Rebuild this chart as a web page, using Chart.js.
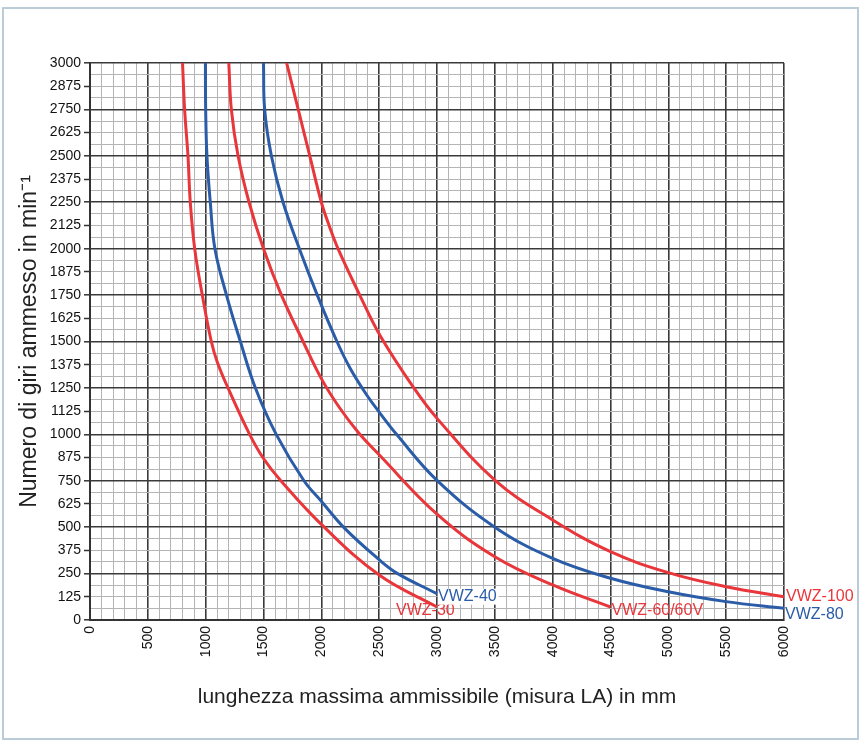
<!DOCTYPE html>
<html><head><meta charset="utf-8">
<script src="https://cdn.jsdelivr.net/npm/chart.js@4.4.0/dist/chart.umd.min.js"></script>
<style>
html,body{margin:0;padding:0;background:#fff;}
#wrap{position:relative;width:860px;height:742px;overflow:hidden;}
#frame{position:absolute;left:2px;top:7px;width:853px;height:729px;border:2px solid #b9ccd8;pointer-events:none;}
canvas{position:absolute;left:0;top:0;}
</style></head><body>
<div id="wrap"><canvas id="c" width="860" height="742"></canvas><div id="frame"></div></div>
<script>
// ---- data ----
const seriesNames = ['VWZ-30', 'VWZ-40', 'VWZ-60/60V', 'VWZ-80', 'VWZ-100'];

const x30 = [800, 818, 847, 867, 905, 971, 1049, 1100, 1193, 1380, 1500, 1650, 2000, 2500, 3000];
const y30 = [3000, 2750, 2500, 2250, 2000, 1750, 1500, 1390, 1250, 1000, 870, 750, 515, 242, 70];

const x40 = [998, 1000, 1011, 1040, 1080, 1180, 1300, 1430, 1610, 1850, 2000, 2200, 2500, 2660, 3000];
const y40 = [3000, 2750, 2500, 2250, 2000, 1750, 1500, 1250, 1000, 750, 640, 495, 325, 250, 142];

const x60 = [1200, 1222, 1280, 1375, 1500, 1655, 1842, 2000, 2150, 2320, 2500, 3000, 3500, 4000, 4500];
const y60 = [3000, 2750, 2500, 2250, 2000, 1750, 1500, 1300, 1150, 1010, 890, 570, 341, 189, 70];

const x80 = [1500, 1510, 1568, 1669, 1810, 1965, 2135, 2250, 2400, 2500, 2650, 3000, 3500, 4000, 4500, 5000, 5500, 6000];
const y80 = [3000, 2750, 2500, 2250, 2000, 1750, 1500, 1355, 1205, 1120, 1000, 752, 500, 332, 225, 152, 99, 63];

const x100 = [1700, 1800, 1900, 2000, 2070, 2144, 2332, 2510, 2800, 3000, 3500, 4000, 4500, 5000, 5500, 6000];
const y100 = [3000, 2750, 2500, 2250, 2120, 2000, 1750, 1530, 1250, 1086, 754, 539, 368, 255, 179, 125];

const xTickLabels = [0, 500, 1000, 1500, 2000, 2500, 3000, 3500, 4000, 4500, 5000, 5500, 6000];
const yTickLabels = [0,125,250,375,500,625,750,875,1000,1125,1250,1375,1500,1625,1750,1875,2000,2125,2250,2375,2500,2625,2750,2875,3000];

// ---- styling ----
const RED = '#e8363b', BLUE = '#2a5ca8';
const pts = (xs, ys) => xs.map((x, i) => ({x, y: ys[i]}));
const mkDs = (name, xs, ys, color) => ({
  label: name, data: pts(xs, ys), borderColor: color, backgroundColor: color,
  borderWidth: 3, pointRadius: 0, showLine: true, fill: false,
  tension: 0.4
});

const labelStyle = [
  {color: RED,  dx: -41, dy: 4, bg: false},
  {color: BLUE, dx: 1,   dy: 3, bg: true},
  {color: RED,  dx: 1,   dy: 4, bg: false},
  {color: BLUE, dx: 1,   dy: 6, bg: false},
  {color: RED,  dx: 2,   dy: 0, bg: false}
];

const endLabels = {
  id: 'endLabels',
  afterDatasetsDraw(chart) {
    const ctx = chart.ctx;
    ctx.save();
    ctx.font = '16px "Liberation Sans", Arial, sans-serif';
    ctx.textBaseline = 'middle';
    ctx.textAlign = 'left';
    chart.data.datasets.forEach((ds, i) => {
      const meta = chart.getDatasetMeta(i);
      const p = meta.data[meta.data.length - 1];
      const s = labelStyle[i];
      const tx = p.x + s.dx, ty = p.y + s.dy;
      const w = ctx.measureText(ds.label).width;
      if (s.bg) { ctx.fillStyle = '#fff'; ctx.fillRect(tx, ty - 8, w + 2, 16); }
      ctx.fillStyle = s.color;
      ctx.fillText(ds.label, tx, ty);
    });
    ctx.restore();
  }
};

Chart.defaults.font.family = '"Liberation Sans", Arial, sans-serif';
const DARK = '#3a3a3a', LIGHT = '#b4b4b4';

new Chart(document.getElementById('c'), {
  type: 'scatter',
  data: {
    datasets: [
      mkDs(seriesNames[0], x30, y30, RED),
      mkDs(seriesNames[1], x40, y40, BLUE),
      mkDs(seriesNames[2], x60, y60, RED),
      mkDs(seriesNames[3], x80, y80, BLUE),
      mkDs(seriesNames[4], x100, y100, RED)
    ]
  },
  options: {
    responsive: false, animation: false, devicePixelRatio: 1,
    layout: {padding: {top: 63, right: 76, bottom: 0, left: 0}},
    plugins: {legend: {display: false}, tooltip: {enabled: false}},
    scales: {
      x: {
        type: 'linear', min: 0, max: 6000,
        afterFit: s => { s.height = 122; },
        ticks: {
          stepSize: 100, autoSkip: false, minRotation: 90, maxRotation: 90,
          callback: v => xTickLabels.includes(v) ? String(v) : '',
          font: {size: 14}, color: '#111', padding: 6
        },
        grid: {
          drawTicks: false,
          color: c => (c.tick && c.tick.value % 500 === 0) ? DARK : LIGHT,
          lineWidth: c => (c.tick && c.tick.value % 500 === 0) ? 1.6 : 1
        },
        border: {color: '#333', width: 2},
        title: {display: true, text: 'lunghezza massima ammissibile (misura LA) in mm',
          font: {size: 21}, color: '#222', padding: {top: 0, bottom: 32}}
      },
      y: {
        type: 'linear', min: 0, max: 3000,
        afterFit: s => { s.width = 90; },
        ticks: {
          stepSize: 62.5, autoSkip: false,
          callback: v => yTickLabels.includes(v) ? String(v) : '',
          font: {size: 14}, color: '#111', padding: 3
        },
        grid: {
          tickLength: 6,
          color: c => (c.tick && c.tick.value % 250 === 0) ? DARK : LIGHT,
          lineWidth: c => (c.tick && c.tick.value % 250 === 0) ? 1.6 : 1,
          tickColor: c => (c.tick && c.tick.value % 125 === 0) ? '#333' : 'rgba(0,0,0,0)',
          tickWidth: 1.5
        },
        border: {color: '#333', width: 2},
        title: {display: true, text: 'Numero di giri ammesso in min⁻¹',
          font: {size: 23}, color: '#222', padding: {top: 16, bottom: 0}}
      }
    }
  },
  plugins: [endLabels]
});
</script>
</body></html>
